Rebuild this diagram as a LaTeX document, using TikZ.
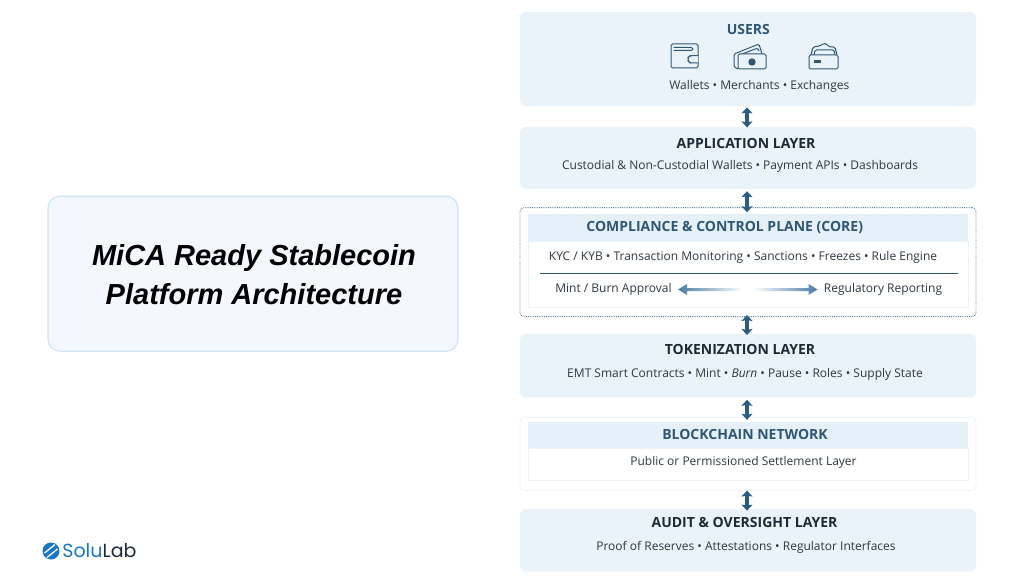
\documentclass[tikz,border=0pt]{standalone}
\usepackage{fontspec}
\setmainfont{Open Sans}
\newfontfamily\titlefont{Liberation Sans}
\newfontfamily\logofont{Poppins}
\usepackage{tikz}
\usetikzlibrary{positioning,calc,arrows.meta}
\definecolor{layerfill}{HTML}{EAF3FA}
\definecolor{bandfill}{HTML}{E5F0F9}
\definecolor{titlefill}{HTML}{F2F8FE}
\definecolor{titleedge}{HTML}{CFE4F5}
\definecolor{paleedge}{HTML}{EEF3F7}
\definecolor{headblue}{HTML}{2F5673}
\definecolor{headdark}{HTML}{1D2A35}
\definecolor{bodytext}{HTML}{2E3842}
\definecolor{flowblue}{HTML}{2B5C82}
\definecolor{fadeblue}{HTML}{4A7BA6}
\definecolor{logoblue}{HTML}{1877C5}
\tikzset{every picture/.style={line width=0.8pt}}
\tikzset{
  layerbox/.style={fill=layerfill, rounded corners=6pt, minimum width=456pt, inner sep=0pt},
  framebox/.style={rounded corners=4pt, minimum width=456pt, inner sep=0pt},
  bandbox/.style={fill=bandfill, minimum width=440pt, inner sep=0pt},
  panelbox/.style={draw=paleedge, fill=white, minimum width=440pt, inner sep=0pt},
  headlight/.style={inner sep=0pt, text=headblue, font=\fontsize{14}{16}\selectfont\bfseries},
  headdark/.style={inner sep=0pt, text=headdark, font=\fontsize{14}{16}\selectfont\bfseries},
  bodyline/.style={inner sep=0pt, text=bodytext, font=\fontsize{12}{14}\selectfont},
  usericon/.style={draw=headblue, line width=1pt, rounded corners=1.5pt},
  updown/.style={draw=flowblue, line width=3.5pt,
    {Stealth[length=6pt,width=11pt,inset=1pt]}-{Stealth[length=6pt,width=11pt,inset=1pt]}}
}
\begin{document}
\begin{tikzpicture}[x=1pt, y=-1pt]
  \useasboundingbox (0,0) rectangle (1024,583);

  % title card
  \node[draw=titleedge, line width=1.2pt, fill=titlefill, rounded corners=12pt, minimum width=410pt, minimum height=155pt] (title) at (253,273.7) {};
  \node[inner sep=0pt, align=center, font=\titlefont\fontsize{29}{39}\selectfont\bfseries\itshape, text=black] (titletext) at (254,274.5) {MiCA Ready Stablecoin\\Platform Architecture};

  % layers
  \node[layerbox, minimum height=94pt] (users) at (748,59) {};
  \node[layerbox, minimum height=62pt, below=20pt of users] (app) {};
  \node[framebox, draw=headblue!75, densely dotted, minimum height=109pt, below=18pt of app] (core) {};
  \node[layerbox, minimum height=63.5pt, below=16.5pt of core] (token) {};
  \node[framebox, draw=paleedge, fill=white, minimum height=73pt, below=19pt of token] (chain) {};
  \node[layerbox, minimum height=62.5pt, below=18pt of chain] (audit) {};

  \node[bandbox, minimum height=27pt] (coreband) at (748,227.5) {};
  \node[panelbox, minimum height=66pt, below=0pt of coreband] (corepanel) {};
  \node[bandbox, minimum height=26pt] (chainband) at (748,435) {};
  \node[panelbox, minimum height=32pt, below=0pt of chainband] (chainpanel) {};

  % layer texts
  \node[headlight] (usershead) at (748.3,30) {USERS};
  \node[bodyline] (userstext) at (759.3,86) {Wallets • Merchants • Exchanges};
  \node[headdark] (apphead) at (746,143.5) {APPLICATION LAYER};
  \node[bodyline] (apptext) at (740,166) {Custodial \& Non-Custodial Wallets • Payment APIs • Dashboards};
  \node[headlight] (corehead) at (724.7,228) {COMPLIANCE \& CONTROL PLANE (CORE)};
  \node[bodyline] (coretext) at (743,257.5) {KYC / KYB • Transaction Monitoring • Sanctions • Freezes • Rule Engine};
  \node[bodyline] (mint) at (613.5,289.5) {Mint / Burn Approval};
  \node[bodyline] (report) at (883,289.5) {Regulatory Reporting};
  \node[headdark] (tokenhead) at (740,349) {TOKENIZATION LAYER};
  \node[bodyline] (tokentext) at (745,374) {EMT Smart Contracts • Mint • \textit{Burn} • Pause • Roles • Supply State};
  \node[headlight] (chainhead) at (745,434.7) {BLOCKCHAIN NETWORK};
  \node[bodyline] (chaintext) at (743.5,462) {Public or Permissioned Settlement Layer};
  \node[headdark] (audithead) at (744.5,522.7) {AUDIT \& OVERSIGHT LAYER};
  \node[bodyline] (audittext) at (746,547) {Proof of Reserves • Attestations • Regulator Interfaces};

  \coordinate (ruleleft) at (540,273.5);
  \coordinate (ruleright) at (958,273.5);
  \draw[headblue, line width=0.7pt] (ruleleft) -- (ruleright);

  % arrows between layers
  \foreach \a/\b/\s/\e in {users/app/-1/-1,app/core/-2/-5,core/token/2/-1.5,token/chain/-2/-3,chain/audit/0/-2}{
    \draw[updown] ([xshift=-1pt,yshift=\s pt]\a.south) -- ([xshift=-1pt,yshift=\e pt]\b.north);
  }

  % fading arrows in the core panel
  \shade[left color=fadeblue, right color=white]
    ([xshift=6pt]mint.east) -- ++(9,-5.5) -- ++(0,4) -- ++(56,0) -- ++(0,3) -- ++(-56,0) -- ++(0,4) -- cycle;
  \shade[left color=white, right color=fadeblue]
    ([xshift=-6pt]report.west) -- ++(-9,-5.5) -- ++(0,4) -- ++(-56,0) -- ++(0,3) -- ++(56,0) -- ++(0,4) -- cycle;

  % wallet icon
  \draw[usericon] (671,44) rectangle (698,68);
  \draw[usericon] (673.5,47.5) -- (693,47.5) -- (693,50.5) -- (673.5,50.5);
  \draw[usericon, fill=layerfill] (698,55.7) -- (690,55.7) -- (688,57.5) -- (688,61) -- (690,63) -- (698,63);

  % money icon
  \draw[usericon] (738,69) -- (734,67) -- (734,54) -- (759,44) -- (762,54);
  \draw[usericon] (742,54) -- (758,48) -- (759,51);
  \draw[usericon, fill=layerfill] (738,54) rectangle (766,69);
  \fill[headblue] (752,62) circle (3.7pt);

  % card icon
  \draw[usericon] (811,55) -- (813,47) -- (820,46) -- (823,43.5) -- (827,44) -- (829,47) -- (835,47) -- (837,55);
  \draw[usericon] (814,55) -- (815,50) -- (834,50) -- (835,55);
  \draw[usericon, fill=layerfill] (809,55) rectangle (838,69);
  \fill[headblue] (814,60) rectangle (820.5,63.5);

  % logo
  \node[circle, fill=logoblue, minimum size=17pt, inner sep=0pt] (logomark) at (51,551) {};
  \draw[white, line width=1.3pt] (44.5,553) -- (55,544.5);
  \draw[white, line width=1.3pt] (47,557.5) -- (57.5,549);
  \node[inner sep=0pt, anchor=west, font=\logofont\fontsize{19}{22}\selectfont] (logotext) at (62,551) {\textcolor{logoblue}{Solu}\textcolor{headdark}{Lab}};
\end{tikzpicture}
\end{document}
